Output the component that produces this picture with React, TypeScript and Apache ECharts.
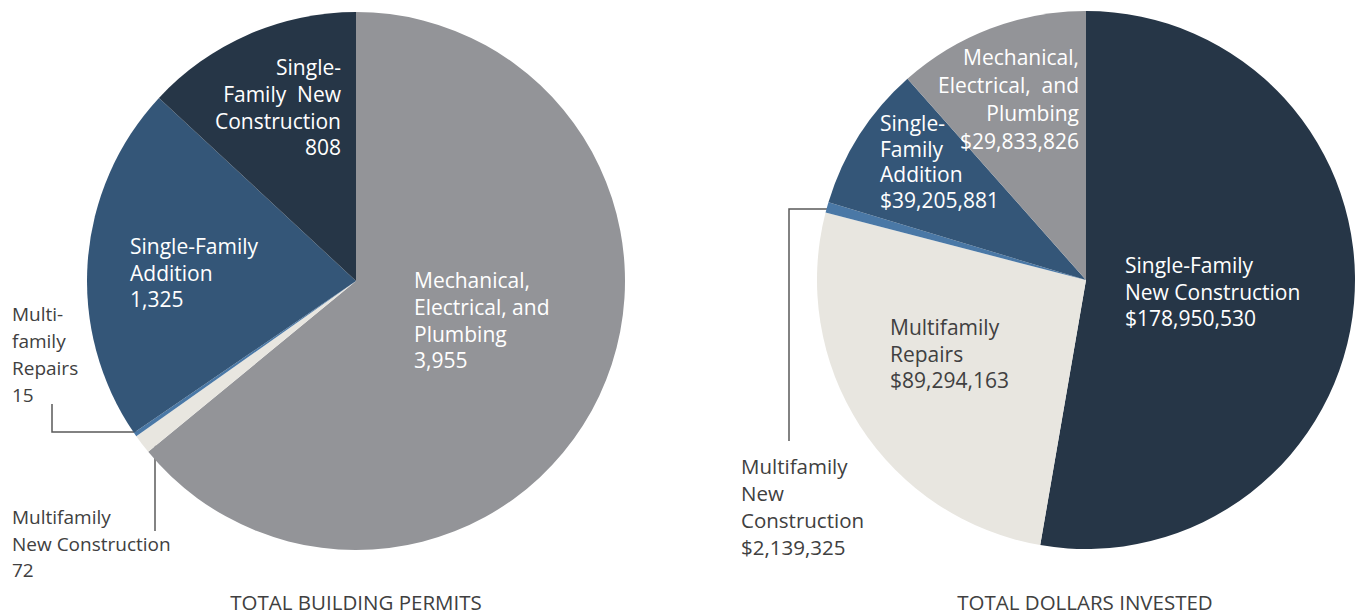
import React, { useEffect, useRef } from "react";
import * as echarts from "echarts";

// ---- Data ----
const permitCategories = [
  "Mechanical, Electrical, and Plumbing",
  "Multifamily New Construction",
  "Multi-family Repairs",
  "Single-Family Addition",
  "Single-Family New Construction",
];
const permitLabels = [
  "Mechanical,\nElectrical, and\nPlumbing",
  "Multifamily\nNew Construction",
  "Multi-\nfamily\nRepairs",
  "Single-Family\nAddition",
  "Single-\nFamily  New\nConstruction",
];
const permitValues = [3955, 72, 15, 1325, 808];

const dollarCategories = [
  "Single-Family New Construction",
  "Multifamily Repairs",
  "Multifamily New Construction",
  "Single-Family Addition",
  "Mechanical, Electrical, and Plumbing",
];
const dollarLabels = [
  "Single-Family\nNew Construction",
  "Multifamily\nRepairs",
  "Multifamily\nNew\nConstruction",
  "Single-\nFamily\nAddition",
  "Mechanical,\nElectrical,  and\nPlumbing",
];
// amounts printed in the labels
const dollarPrinted = [178950530, 89294163, 2139325, 39205881, 29833826];
// slice sizes as drawn in the picture (the Addition and MEP slices are drawn
// with each other's amounts in the original chart)
const dollarSliceValues = [178950530, 89294163, 2139325, 29833826, 39205881];

const chartTitles = ["TOTAL BUILDING PERMITS", "TOTAL DOLLARS INVESTED"];

// ---- Styles ----
const FONT = "'Open Sans'";
const permitColors = ["#939498", "#e8e6e0", "#4a78a6", "#345678", "#263647"];
const dollarColors = ["#263647", "#e8e6e0", "#4a78a6", "#345678", "#939498"];

type LabelPos = {
  x: number;
  y: number;
  align: "left" | "right";
  color: string;
  size: number;
  lh: number;
  line?: number[][];
};

const permitLabelPos: LabelPos[] = [
  { x: 414, y: 267, align: "left", color: "#ffffff", size: 21, lh: 26.7 },
  { x: 12, y: 504, align: "left", color: "#404040", size: 19, lh: 26.5, line: [[155, 433], [155, 480], [155, 531]] },
  { x: 12, y: 300, align: "left", color: "#404040", size: 19, lh: 27, line: [[137, 432], [52, 432], [52, 404]] },
  { x: 130, y: 233, align: "left", color: "#ffffff", size: 21, lh: 26.5 },
  { x: 341, y: 54, align: "right", color: "#ffffff", size: 21, lh: 26.7 },
];
const dollarLabelPos: LabelPos[] = [
  { x: 1125, y: 252, align: "left", color: "#ffffff", size: 21, lh: 26.5 },
  { x: 890, y: 314, align: "left", color: "#404040", size: 21, lh: 26.5 },
  { x: 741, y: 452, align: "left", color: "#404040", size: 20.5, lh: 27, line: [[831, 209], [789, 209], [789, 441]] },
  { x: 880, y: 110, align: "left", color: "#ffffff", size: 21, lh: 25.7 },
  { x: 1079, y: 43, align: "right", color: "#ffffff", size: 21, lh: 28 },
];

function buildSeries(
  names: string[],
  labels: string[],
  sliceValues: number[],
  printed: number[],
  colors: string[],
  pos: LabelPos[],
  center: number[],
  fmt: (v: number) => string
) {
  return {
    type: "pie",
    center,
    radius: 269,
    startAngle: 90,
    clockwise: true,
    avoidLabelOverlap: false,
    silent: true,
    itemStyle: { borderWidth: 0 },
    labelLine: { show: false },
    data: names.map((n, i) => ({
      name: n,
      value: sliceValues[i],
      itemStyle: { color: colors[i] },
      label: {
        show: true,
        position: "outside",
        formatter: labels[i] + "\n" + fmt(printed[i]),
        color: pos[i].color,
        fontFamily: FONT,
        fontSize: pos[i].size,
        lineHeight: pos[i].lh,
        align: pos[i].align,
      },
      labelLine: pos[i].line
        ? { show: true, lineStyle: { color: "#5a5a5a", width: 1.5 } }
        : { show: false },
    })),
    labelLayout: (params: any) => {
      const p = pos[params.dataIndex];
      const out: any = {
        x: p.x,
        y: p.y,
        align: p.align,
        verticalAlign: "top",
      };
      if (p.line) out.labelLinePoints = p.line;
      return out;
    },
  };
}

export default function App() {
  const ref = useRef<HTMLDivElement>(null);
  useEffect(() => {
    if (!ref.current) return;
    const chart = echarts.init(ref.current, null, { renderer: "svg" });
    const nf = (v: number) => v.toLocaleString("en-US");
    chart.setOption({
      animation: false,
      backgroundColor: "#ffffff",
      series: [
        buildSeries(permitCategories, permitLabels, permitValues, permitValues, permitColors, permitLabelPos, [356, 281], nf),
        buildSeries(dollarCategories, dollarLabels, dollarSliceValues, dollarPrinted, dollarColors, dollarLabelPos, [1086, 280], (v) => "$" + nf(v)),
      ],
      graphic: [
        {
          type: "text",
          x: 356,
          y: 602,
          style: { text: chartTitles[0], align: "center", verticalAlign: "middle", fill: "#404040", font: `20.5px ${FONT}` },
        },
        {
          type: "text",
          x: 1085,
          y: 602,
          style: { text: chartTitles[1], align: "center", verticalAlign: "middle", fill: "#404040", font: `20.5px ${FONT}` },
        },
      ],
    });
    return () => chart.dispose();
  }, []);
  return (
    <div
      ref={ref}
      style={{ position: "fixed", left: 0, top: 0, width: 1359, height: 615 }}
    />
  );
}
